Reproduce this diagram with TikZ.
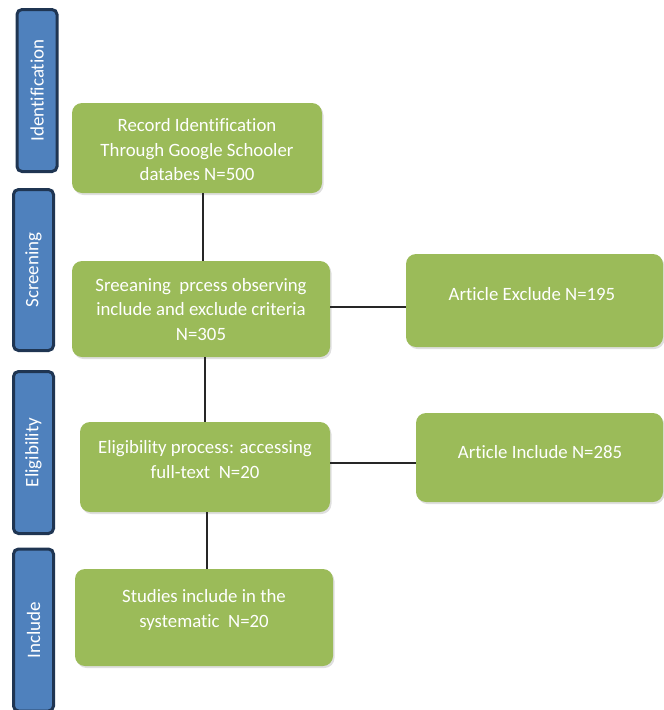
\documentclass[tikz,border=0pt]{standalone}
\usepackage{fontspec}
\setmainfont{Carlito}[Ligatures={NoCommon}]
\usetikzlibrary{shadows}
\definecolor{boxgreen}{HTML}{9BBB59}
\definecolor{barblue}{HTML}{4F81BD}
\definecolor{baredge}{HTML}{1F3552}
\begin{document}
\begin{tikzpicture}[x=1pt,y=-1pt,
  gbox/.style={rectangle, rounded corners=10pt, fill=boxgreen, inner sep=0pt,
    drop shadow={opacity=0.25, shadow xshift=1.5pt, shadow yshift=-2pt}},
  btext/.style={text=white, font=\fontsize{18.8}{24.5}\selectfont, align=center, inner sep=0pt},
  phase/.style={rectangle, rounded corners=5pt, fill=barblue, draw=baredge, line width=3pt,
    rotate=90, minimum height=40pt, inner sep=0pt, text=white,
    font=\fontsize{19}{22}\selectfont},
  conn/.style={line width=1.4pt, black!85}]
\useasboundingbox (0,0) rectangle (664,710);
\clip (0,0) rectangle (664,710);
% phase bars
\node[phase, minimum width=162pt] (pi) at (37,90.5) {Identification};
\node[phase, minimum width=161pt] (ps) at (33.5,270) {Screening};
\node[phase, minimum width=162pt] (pe) at (33.5,452.5) {Eligibility};
\node[phase, minimum width=162pt] (pn) at (33.5,630) {Include};
% boxes
\node[gbox, minimum width=250pt, minimum height=90pt] (b1) at (197,148) {};
\node[gbox, minimum width=258pt, minimum height=96pt] (b2) at (201,309) {};
\node[gbox, minimum width=250pt, minimum height=90pt] (b3) at (205,467) {};
\node[gbox, minimum width=258pt, minimum height=97pt] (b4) at (204,617.5) {};
\node[gbox, minimum width=257pt, minimum height=93pt] (bx) at (534.5,300.5) {};
\node[gbox, minimum width=247pt, minimum height=89pt] (bi) at (539.5,457.5) {};
% texts
\node[btext] (t1) at (197,150) {Record Identification\\Through Google Schooler\\databes N=500};
\node[btext] (t2) at (201,309.5) {Sreeaning\ \ prcess observing\\include and exclude criteria\\N=305};
\node[btext] (t3) at (205,459.5) {Eligibility process: accessing\\full-text\ \ N=20};
\node[btext] (t4) at (204,610) {Studies include in the\\systematic\ \ N=20};
\node[btext] (tx) at (532,294) {Article Exclude N=195};
\node[btext] (ti) at (540,452) {Article Include N=285};
% connectors
\draw[conn] ([xshift=6pt]b1.south) -- ([xshift=2pt]b2.north);
\draw[conn] ([xshift=4pt]b2.south) -- (b3.north);
\draw[conn] ([xshift=2pt]b3.south) -- ([xshift=3pt]b4.north);
\draw[conn] ([yshift=2pt]b2.east) -- ([yshift=2pt]b2.east -| bx.west);
\draw[conn] ([yshift=4pt]b3.east) -- ([yshift=4pt]b3.east -| bi.west);
\end{tikzpicture}
\end{document}
